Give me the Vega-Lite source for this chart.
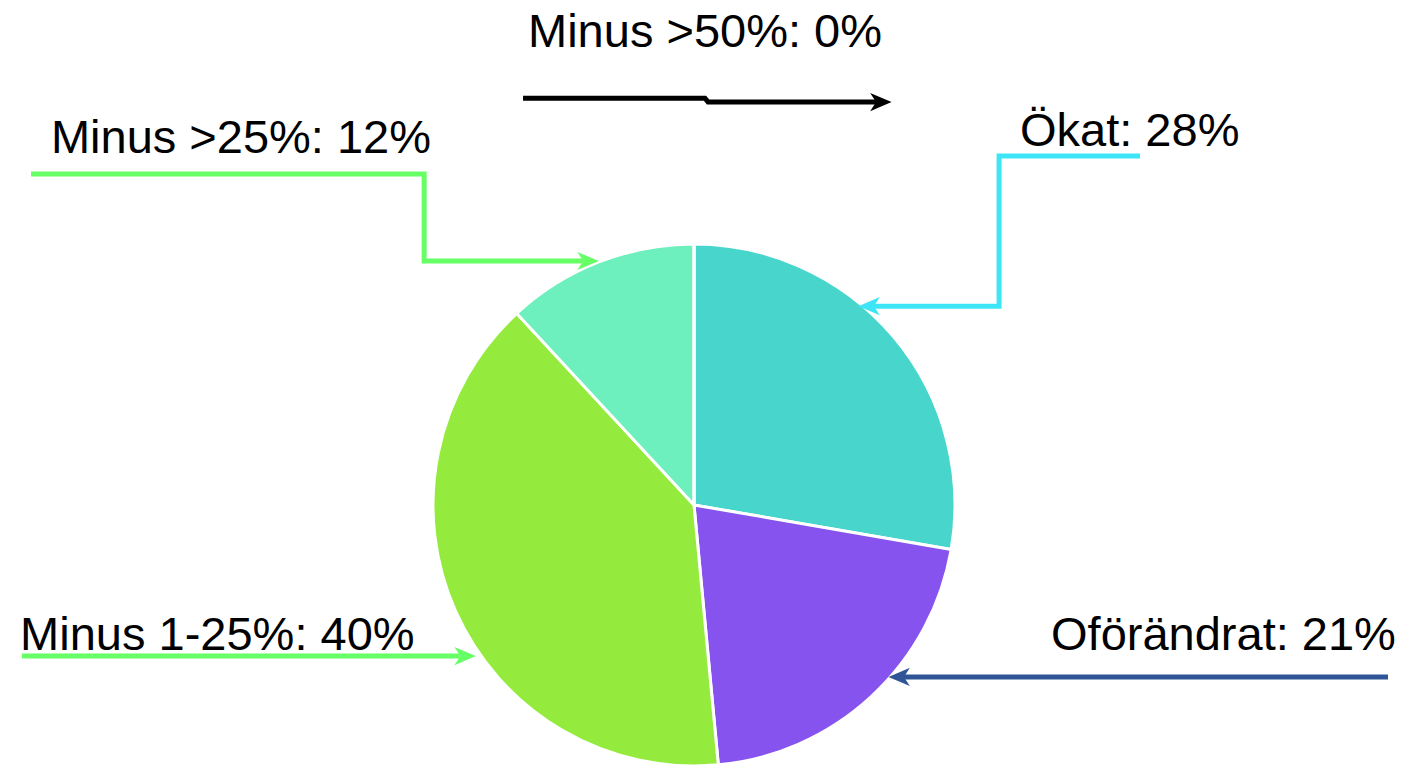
{
  "$schema": "https://vega.github.io/schema/vega-lite/v6.json",
  "width": 1388,
  "height": 524,
  "autosize": {"type": "none"},
  "padding": {"left": 0, "top": 243, "right": 21, "bottom": 0},
  "background": "white",
  "config": {"view": {"stroke": null}, "font": "Liberation Sans"},
  "datasets": {
    "slices": [
      {"category": "Ökat", "pct": 28, "ord": 1},
      {"category": "Oförändrat", "pct": 21, "ord": 2},
      {"category": "Minus 1-25%", "pct": 40, "ord": 3},
      {"category": "Minus >25%", "pct": 12, "ord": 4},
      {"category": "Minus >50%", "pct": 0, "ord": 5}
    ],
    "leaders": [
      {"series": "Minus >50%", "ord": 1, "x": -65.5, "y": 155.9},
      {"series": "Minus >50%", "ord": 2, "x": 4.2, "y": 155.9},
      {"series": "Minus >50%", "ord": 3, "x": 5.4, "y": 154.4},
      {"series": "Minus >50%", "ord": 4, "x": 70.0, "y": 154.4},
      {"series": "Minus >25%", "ord": 1, "x": -254.0, "y": 126.8},
      {"series": "Minus >25%", "ord": 2, "x": -103.4, "y": 126.8},
      {"series": "Minus >25%", "ord": 3, "x": -103.4, "y": 93.5},
      {"series": "Minus >25%", "ord": 4, "x": -42.5, "y": 93.5},
      {"series": "Ökat", "ord": 1, "x": 170.9, "y": 133.7},
      {"series": "Ökat", "ord": 2, "x": 116.9, "y": 133.7},
      {"series": "Ökat", "ord": 3, "x": 116.9, "y": 76.2},
      {"series": "Ökat", "ord": 4, "x": 68.9, "y": 76.2},
      {"series": "Minus 1-25%", "ord": 1, "x": -257.5, "y": -57.9},
      {"series": "Minus 1-25%", "ord": 2, "x": -89.7, "y": -57.9},
      {"series": "Oförändrat", "ord": 1, "x": 265.9, "y": -65.9},
      {"series": "Oförändrat", "ord": 2, "x": 80.4, "y": -65.9}
    ],
    "heads": [
      {"series": "Minus >50%", "dir": "right", "x": 71.6, "y": 154.4},
      {"series": "Minus >25%", "dir": "right", "x": -40.6, "y": 93.5},
      {"series": "Ökat", "dir": "left", "x": 67.1, "y": 76.2},
      {"series": "Minus 1-25%", "dir": "right", "x": -87.7, "y": -57.9},
      {"series": "Oförändrat", "dir": "left", "x": 78.6, "y": -65.9}
    ],
    "labels": [
      {"label": "Minus >50%: 0%", "x": -63.6, "y": 175.5},
      {"label": "Minus >25%: 12%", "x": -246.4, "y": 134.9},
      {"label": "Ökat: 28%", "x": 124.9, "y": 137.5},
      {"label": "Minus 1-25%: 40%", "x": -258.2, "y": -55.6},
      {"label": "Oförändrat: 21%", "x": 136.8, "y": -55.6}
    ]
  },
  "layer": [
    {
      "data": {"name": "slices"},
      "mark": {"type": "arc", "outerRadius": 261, "stroke": "white", "strokeWidth": 3},
      "encoding": {
        "theta": {"field": "pct", "type": "quantitative", "stack": true},
        "order": {"field": "ord"},
        "color": {
          "field": "category",
          "type": "nominal",
          "scale": {
            "domain": ["Ökat", "Oförändrat", "Minus 1-25%", "Minus >25%", "Minus >50%"],
            "range": ["#48D6CC", "#8653EE", "#94EB3D", "#6DF0BE", "#000000"]
          },
          "legend": null
        }
      }
    },
    {
      "data": {"name": "leaders"},
      "mark": {"type": "line", "strokeWidth": 5, "strokeCap": "butt", "strokeJoin": "miter"},
      "encoding": {
        "x": {"field": "x", "type": "quantitative", "scale": {"domain": [-265.9, 265.9], "nice": false, "zero": false}, "axis": null},
        "y": {"field": "y", "type": "quantitative", "scale": {"domain": [-100.4, 100.4], "nice": false, "zero": false}, "axis": null},
        "detail": {"field": "series"},
        "order": {"field": "ord"},
        "stroke": {
          "field": "series",
          "type": "nominal",
          "scale": {
            "domain": ["Minus >50%", "Minus >25%", "Ökat", "Minus 1-25%", "Oförändrat"],
            "range": ["#000000", "#66FF66", "#3CE6F7", "#66FF66", "#2F5597"]
          },
          "legend": null
        }
      }
    },
    {
      "data": {"name": "heads"},
      "mark": {"type": "point", "filled": true, "size": 460, "opacity": 1, "strokeWidth": 0},
      "encoding": {
        "x": {"field": "x", "type": "quantitative"},
        "y": {"field": "y", "type": "quantitative"},
        "shape": {
          "field": "dir",
          "type": "nominal",
          "scale": {
            "domain": ["right", "left"],
            "range": ["M1,0L-1,-0.85L-0.45,0L-1,0.85Z", "M-1,0L1,-0.85L0.45,0L1,0.85Z"]
          },
          "legend": null
        },
        "fill": {
          "field": "series",
          "type": "nominal",
          "scale": {
            "domain": ["Minus >50%", "Minus >25%", "Ökat", "Minus 1-25%", "Oförändrat"],
            "range": ["#000000", "#66FF66", "#3CE6F7", "#66FF66", "#2F5597"]
          },
          "legend": null
        }
      }
    },
    {
      "data": {"name": "labels"},
      "mark": {"type": "text", "align": "left", "baseline": "alphabetic", "fontSize": 47, "color": "#000000"},
      "encoding": {
        "x": {"field": "x", "type": "quantitative"},
        "y": {"field": "y", "type": "quantitative"},
        "text": {"field": "label", "type": "nominal"}
      }
    }
  ]
}
